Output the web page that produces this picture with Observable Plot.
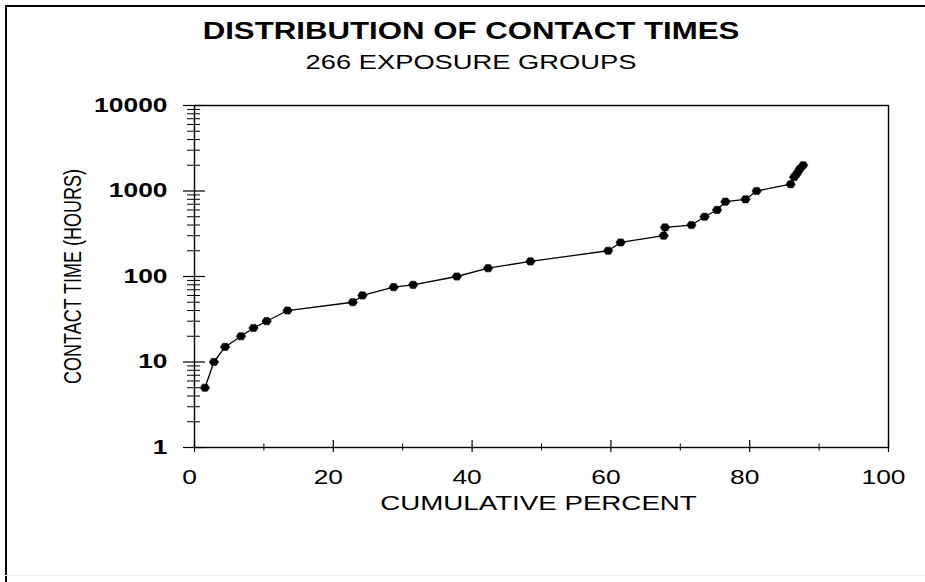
<!DOCTYPE html>
<html>
<head>
<meta charset="utf-8">
<script src="https://cdn.jsdelivr.net/npm/d3@7"></script>
<script src="https://cdn.jsdelivr.net/npm/@observablehq/plot@0.6"></script>
<style>
  html, body { margin: 0; padding: 0; background: #fff; overflow: hidden; }
  #wrap { position: relative; width: 925px; height: 582px; overflow: hidden; font-family: "Liberation Sans", Arial, sans-serif; }
  #bl { position: absolute; left: 5px; top: 5px; width: 2px; height: 577px; background: #000; }
  #bt { position: absolute; left: 5px; top: 5px; width: 920px; height: 2px; background: #000; }
  #bb { position: absolute; left: 5px; top: 575px; width: 920px; height: 1px; background: #eee; }
  #head { position: relative; height: 80px; }
  .t { position: absolute; left: 0; width: 942px; text-align: center; line-height: 1; transform: scaleX(1.3); transform-origin: 471px 0; color: #000; white-space: nowrap; }
  #title { top: 19px; font-size: 24px; font-weight: bold; }
  #subtitle { top: 51px; font-size: 21px; }
  #chart svg { display: block; }
</style>
</head>
<body>
<div id="wrap">
  <div id="bl"></div><div id="bt"></div><div id="bb"></div>
  <div id="head">
    <div class="t" id="title"></div>
    <div class="t" id="subtitle"></div>
  </div>
  <div id="chart"></div>
</div>
<script>
const titleText = "DISTRIBUTION OF CONTACT TIMES";
const subtitleText = "266 EXPOSURE GROUPS";
const xLabel = "CUMULATIVE PERCENT";
const yLabel = "CONTACT TIME (HOURS)";

// cumulative percent of exposure groups
const cumulativePercent = [1.5, 2.8, 4.4, 6.7, 8.5, 10.4, 13.4, 22.8, 24.2, 28.7, 31.5, 37.8, 42.3, 48.4, 59.6, 61.4, 67.6, 67.8, 71.6, 73.5, 75.3, 76.5, 79.4, 81.0, 85.9, 86.4, 86.8, 87.2, 87.7];
// contact time in hours
const contactHours = [5, 10, 15, 20, 25, 30, 40, 50, 60, 75, 80, 100, 125, 150, 200, 250, 300, 375, 400, 500, 600, 750, 800, 1000, 1200, 1450, 1600, 1800, 2000];

const xMajorTicks = [0, 20, 40, 60, 80, 100];
const xMinorTicks = [10, 30, 50, 70, 90];
const yMajorTicks = [1, 10, 100, 1000, 10000];
const yMinorTicks = [2, 3, 4, 5, 6, 7, 8, 9, 20, 30, 40, 50, 60, 70, 80, 90, 200, 300, 400, 500, 600, 700, 800, 900, 2000, 3000, 4000, 5000, 6000, 7000, 8000, 9000];

document.getElementById("title").textContent = titleText;
document.getElementById("subtitle").textContent = subtitleText;

const data = cumulativePercent.map((p, i) => ({pct: p, hours: contactHours[i]}));
const blank = () => "";

// wide hexagonal marker, like the original's flattened dots
const wideHex = {
  draw(context, size) {
    const r = Math.sqrt(size / Math.PI);
    context.moveTo(-1.3 * r, 0);
    context.lineTo(-0.65 * r, -r);
    context.lineTo(0.65 * r, -r);
    context.lineTo(1.3 * r, 0);
    context.lineTo(0.65 * r, r);
    context.lineTo(-0.65 * r, r);
    context.closePath();
  }
};

const chart = Plot.plot({
  width: 925,
  height: 502,
  marginTop: 25,
  marginBottom: 135,
  marginLeft: 194,
  marginRight: 37,
  style: {fontFamily: "'Liberation Sans', Arial, sans-serif", background: "transparent", color: "#000", overflow: "visible"},
  x: {domain: [0, 100]},
  y: {type: "log", domain: [1, 10000]},
  marks: [
    Plot.frame({stroke: "#000", strokeWidth: 1.4}),
    // y ticks crossing the axis
    Plot.axisY({ticks: yMinorTicks, tickSize: 13, dx: 6, tickFormat: blank, label: null, strokeWidth: 1}),
    Plot.axisY({ticks: yMajorTicks, tickSize: 22, dx: 11, tickFormat: blank, label: null, strokeWidth: 1.2}),
    Plot.axisY({ticks: yMajorTicks, tickSize: 0, tickPadding: 27, tickFormat: d => String(d), label: null, fontSize: 20, fontWeight: "bold"}),
    // x ticks crossing the axis
    Plot.axisX({ticks: xMinorTicks, tickSize: 7, dy: -3.5, tickFormat: blank, label: null, strokeWidth: 1}),
    Plot.axisX({ticks: xMajorTicks, tickSize: 12, dy: -7, tickFormat: blank, label: null, strokeWidth: 1.2}),
    Plot.axisX({ticks: xMajorTicks, tickSize: 0, tickPadding: 22, dx: -5, tickFormat: d => String(d), label: null, fontSize: 20}),
    Plot.text([xLabel], {text: d => d, frameAnchor: "bottom", textAnchor: "middle", lineAnchor: "middle", dy: 56, dx: -3, fontSize: 21}),
    Plot.text([yLabel], {text: d => d, frameAnchor: "left", textAnchor: "middle", rotate: -90, lineAnchor: "middle", dx: -121, fontSize: 18}),
    Plot.line(data, {x: "pct", y: "hours", stroke: "#000", strokeWidth: 1.3}),
    Plot.dot(data, {x: "pct", y: "hours", r: 3.6, symbol: wideHex, fill: "#000", stroke: "#000", strokeWidth: 0.6})
  ]
});

// stretch text horizontally, matching the wide lettering of the original
const S = 1.32;
chart.querySelectorAll("text").forEach(t => {
  const tr = t.getAttribute("transform");
  const m = tr && tr.match(/^\s*translate\([^)]*\)/);
  if (m) {
    t.setAttribute("transform", m[0] + ` scale(${S},1)` + tr.slice(m[0].length));
  } else {
    const x = +t.getAttribute("x") || 0;
    t.setAttribute("transform", `translate(${x},0) scale(${S},1) translate(${-x},0)` + (tr ? " " + tr : ""));
  }
});

document.getElementById("chart").appendChild(chart);
</script>
</body>
</html>
